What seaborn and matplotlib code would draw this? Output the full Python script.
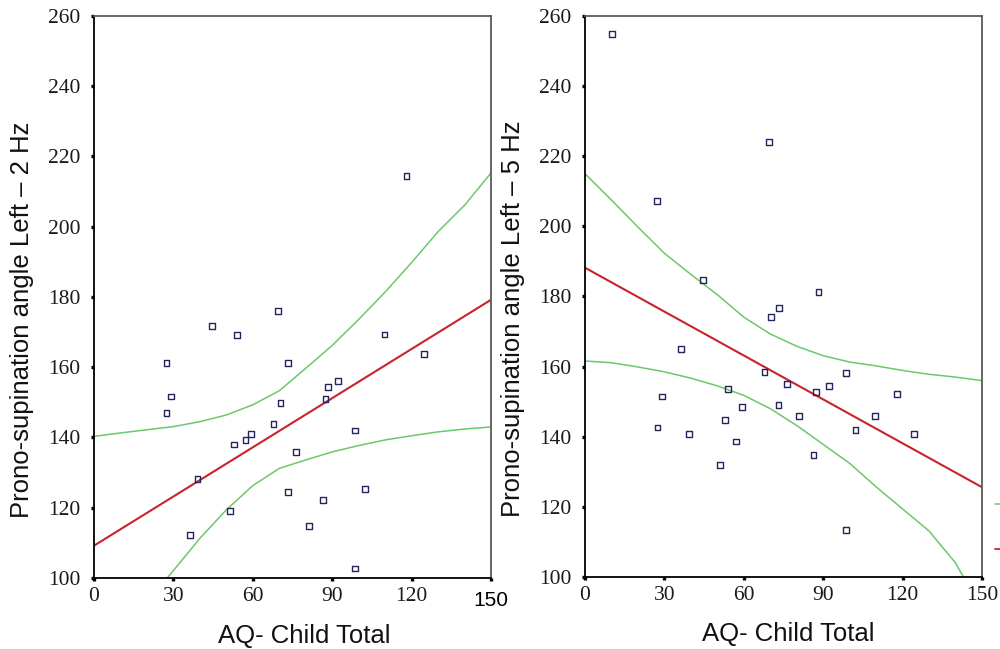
import matplotlib
matplotlib.use("Agg")
import matplotlib.pyplot as plt
import seaborn as sns
from matplotlib.lines import Line2D
from matplotlib.transforms import ScaledTranslation

# AQ-Child total vs. left-hand prono-supination angle at 2 Hz
aq_2hz = [118.1, 69.6, 44.6, 54.0, 109.8, 124.7, 27.4, 73.2, 29.2, 27.4,
          92.3, 88.4, 87.5, 70.5, 67.8, 98.7, 59.3, 57.2, 53.0, 76.4,
          39.1, 102.4, 73.2, 86.5, 51.3, 81.1, 36.4, 98.7]
angle_2hz = [214.4, 176.0, 171.7, 169.1, 169.3, 163.8, 161.3, 161.3, 151.7, 146.9,
             156.1, 154.4, 150.9, 149.9, 143.9, 142.0, 140.9, 139.2, 138.0, 135.8,
             128.1, 125.4, 124.4, 122.2, 119.1, 114.7, 112.2, 102.7]

# AQ-Child total vs. left-hand prono-supination angle at 5 Hz
aq_5hz = [10.1, 69.4, 27.2, 44.5, 88.2, 73.2, 70.3, 36.2, 67.8, 98.6,
          76.3, 92.3, 87.2, 54.0, 117.9, 29.1, 59.2, 73.1, 80.9, 109.7,
          52.8, 27.4, 102.2, 39.2, 124.4, 57.1, 86.3, 51.1, 98.6]
angle_5hz = [254.9, 224.0, 207.2, 184.6, 181.3, 176.8, 174.1, 165.0, 158.5, 158.2,
             155.0, 154.4, 152.8, 153.6, 152.2, 151.5, 148.5, 149.1, 146.0, 146.0,
             144.8, 142.6, 141.9, 140.8, 140.8, 138.6, 134.8, 131.9, 113.4]

# Linear fit lines (values at the ends of the x range)
fit_x = [0, 150]
fit_2hz = [109.2, 179.2]
fit_5hz = [188.2, 125.6]

# 95% confidence band of the fitted mean
ci_x = [0, 10, 20, 30, 40, 50, 60, 70, 80, 90, 100, 110, 120, 130, 140, 150]
ci_upper_2hz = [140.3, 141.3, 142.2, 143.1, 144.5, 146.4, 149.3, 153.3,
                159.7, 166.2, 173.6, 181.4, 189.8, 198.6, 206.1, 215.3]
ci_lower_2hz_x = [28, 30, 40, 50, 60, 70, 80, 90, 100, 110, 120, 130, 140, 150]
ci_lower_2hz = [100.3, 102.1, 111.3, 119.4, 126.3, 131.2, 133.6, 135.9,
                137.7, 139.3, 140.5, 141.6, 142.4, 143.0]
ci_upper_5hz = [215.0, 207.5, 199.8, 192.3, 186.3, 180.5, 174.1, 169.3,
                165.8, 163.1, 161.3, 160.2, 158.9, 157.8, 157.0, 156.0]
ci_lower_5hz_x = [0, 10, 20, 30, 40, 50, 60, 70, 80, 90, 100, 110, 120, 130, 140, 144]
ci_lower_5hz = [161.6, 161.1, 159.9, 158.5, 156.7, 154.5, 151.8, 148.0,
                143.2, 137.8, 132.4, 125.7, 119.4, 113.1, 104.0, 98.6]

x_ticks = [0, 30, 60, 90, 120, 150]
y_ticks = [100, 120, 140, 160, 180, 200, 220, 240, 260]
x_label = "AQ- Child Total"
y_label_2hz = "Prono-supination angle Left \u2013 2 Hz"
y_label_5hz = "Prono-supination angle Left \u2013 5 Hz"

sns.set_style("white")
plt.rcParams["font.family"] = ["Liberation Sans", "DejaVu Sans"]

FIT_RED = "#c8232b"
CI_GREEN = "#6cc86c"
MARK_EDGE = "#25255c"
TICK_FONT = "Liberation Serif"

fig = plt.figure(figsize=(10, 6.49), dpi=100)
ax1 = fig.add_axes([0.094, 0.1094, 0.397, 0.866])
ax2 = fig.add_axes([0.585, 0.1110, 0.397, 0.8644])


def draw_panel(ax, aq, angle, fit_y, up_x, up_y, lo_x, lo_y, ylabel, xlab_x):
    sns.lineplot(x=up_x, y=up_y, ax=ax, color=CI_GREEN, linewidth=1.1,
                 estimator=None, sort=False)
    sns.lineplot(x=lo_x, y=lo_y, ax=ax, color=CI_GREEN, linewidth=1.1,
                 estimator=None, sort=False)
    sns.lineplot(x=fit_x, y=fit_y, ax=ax, color=FIT_RED, linewidth=1.5,
                 estimator=None, sort=False)
    sns.scatterplot(x=aq, y=angle, ax=ax, marker="s", s=17,
                    facecolors="none", edgecolors=MARK_EDGE, linewidth=1.0,
                    zorder=5)
    ax.set_xlim(0, 150)
    ax.set_ylim(100, 260)
    ax.set_xticks(x_ticks)
    ax.set_yticks(y_ticks)
    ax.set_xticklabels([str(t) for t in x_ticks])
    ax.set_yticklabels([str(t) for t in y_ticks])
    for lab in ax.get_xticklabels() + ax.get_yticklabels():
        lab.set_fontfamily(TICK_FONT)
        lab.set_fontsize(15.5)
        lab.set_color("#1a1a1a")
    ax.tick_params(axis="both", direction="out", length=2.4, width=2.4,
                   color="black", bottom=True, left=True)
    ax.tick_params(axis="y", pad=7.5)
    ax.tick_params(axis="x", pad=4)
    for side in ("left", "bottom"):
        ax.spines[side].set_color("black")
        ax.spines[side].set_linewidth(1.3)
    for side in ("top", "right"):
        ax.spines[side].set_color("#5a5a5a")
        ax.spines[side].set_linewidth(1.3)
    ax.set_xlabel(x_label, fontsize=18.5, color="#111111")
    ax.set_ylabel(ylabel, fontsize=18.5, color="#111111")
    ax.yaxis.set_label_coords(-0.15, 0.46)
    ax.xaxis.set_label_coords(xlab_x, -0.081)
    ax.grid(False)


draw_panel(ax1, aq_2hz, angle_2hz, fit_2hz, ci_x, ci_upper_2hz,
           ci_lower_2hz_x, ci_lower_2hz, y_label_2hz, 0.529)
draw_panel(ax2, aq_5hz, angle_5hz, fit_5hz, ci_x, ci_upper_5hz,
           ci_lower_5hz_x, ci_lower_5hz, y_label_5hz, 0.512)

# The last x tick label on the left panel uses the sans face
last = ax1.get_xticklabels()[-1]
last.set_fontfamily("Liberation Sans")
last.set_fontsize(15)
last.set_color("black")
last.set_transform(last.get_transform()
                   + ScaledTranslation(0, -3 / 72, fig.dpi_scale_trans))

# Legend keys beside the right panel, running off the page edge
handles = [Line2D([], [], color=CI_GREEN, linewidth=1.1),
           Line2D([], [], color=FIT_RED, linewidth=1.3)]
fig.legend(handles, ["", ""], loc="center left",
           bbox_to_anchor=(0.995, 0.185), frameon=False, borderpad=0,
           borderaxespad=0, fontsize=18.5, labelspacing=0.82,
           handlelength=2.0)

fig.savefig("out.png", dpi=100)
